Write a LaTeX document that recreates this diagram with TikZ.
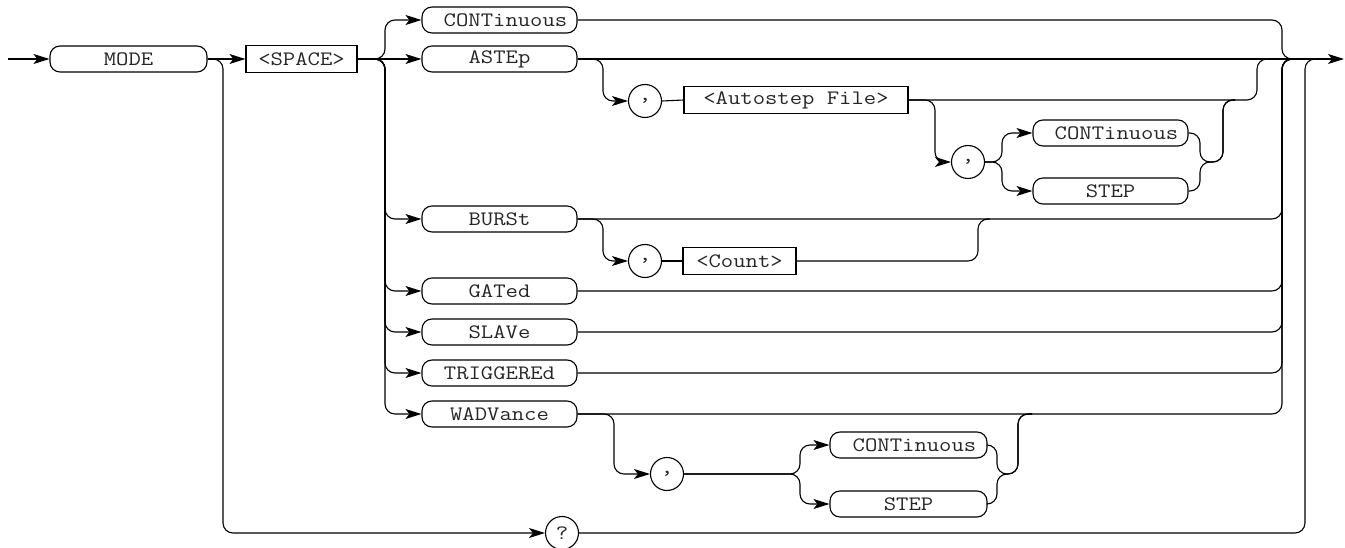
\documentclass[tikz,border=0pt]{standalone}
\usepackage{fontspec}
\newfontfamily\cour{Latin Modern Mono}[FakeStretch=1.17]
\usetikzlibrary{arrows.meta}
\begin{document}
\begin{tikzpicture}[x=1pt,y=-1pt,
  line width=1.1pt,
  every node/.style={font=\cour\fontsize{20.5}{24}\selectfont, text=black!85, inner sep=0pt},
  term/.style={draw, rounded corners=10pt, minimum height=26pt},
  nterm/.style={draw, minimum height=27pt},
  sepc/.style={draw, circle, minimum size=33pt},
  arr/.style={-{Stealth[length=16pt,width=10pt,inset=4pt]}},
  conn/.style={rounded corners=10pt}]
\useasboundingbox (0,0) rectangle (1345,548);

% nodes
\node[term, minimum width=157pt] (mode) at (128.5,59) {MODE};
\node[nterm, minimum width=111pt] (space) at (301.5,59) {<SPACE>};
\node[term, minimum width=155pt] (cont1) at (499.5,20) {\hspace*{12pt}CONTinuous};
\node[term, minimum width=155pt] (astep) at (499.5,59) {ASTEp};
\node[term, minimum width=155pt] (burst) at (499.5,219) {BURSt};
\node[term, minimum width=155pt] (gated) at (499.5,291) {GATed};
\node[term, minimum width=155pt] (slave) at (499.5,332) {SLAVe};
\node[term, minimum width=155pt] (trig) at (499.5,373) {TRIGGEREd};
\node[term, minimum width=155pt] (wadv) at (499.5,414) {WADVance};

\node[sepc] (c1) at (645,101) {,};
\node[nterm, minimum width=224pt] (auto) at (796,100) {<Autostep File>};
\node[sepc] (c2) at (968,162) {,};
\node[term, minimum width=155pt] (cont2) at (1110.5,133) {\hspace*{12pt}CONTinuous};
\node[term, minimum width=155pt] (step2) at (1110.5,191) {STEP};

\node[sepc] (c3) at (645,261) {,};
\node[nterm, minimum width=113pt] (count) at (739.5,261) {<Count>};

\node[sepc] (c4) at (667,474) {,};
\node[term, minimum width=157pt] (cont3) at (908.5,445) {\hspace*{12pt}CONTinuous};
\node[term, minimum width=157pt] (step3) at (908.5,504) {STEP};

\node[sepc] (q) at (562,533) {?};

% junction coordinates
\coordinate (start) at (8,59);
\coordinate (exit) at (1344,59);
\coordinate (J0) at (1268,59);
\coordinate (J1) at (1292,59);
\coordinate (J2) at (1316,59);
\coordinate (J3) at (1235,100);
\coordinate (J4) at (990,219);
\coordinate (J5) at (1032,414);

% main line
\draw[arr] (start) -- (mode);
\draw[arr] (mode) -- (space);
\draw[arr] (space) -- (astep);
\draw[arr] (astep.east) -- (exit);

% query bypass
\draw[arr,conn] (mode.east) -- (223,59) -- (223,533) -- (q.west);
\draw[conn] (q.east) -- (1305,533) -- (1305,59) -- (J2);

% options split
\draw[arr,conn] (space.east) -- (385,59) -- (385,20) -- (cont1.west);
\foreach \n/\y in {burst/219,gated/291,slave/332,trig/373,wadv/414}{
  \draw[arr,conn] (space.east) -- (385,59) -- (385,\y) -- (\n.west);
  \draw[conn] (\n.east) -- (1282,\y) -- (1282,59) -- (J1);
}
\draw[conn] (cont1.east) -- (1282,20) -- (1282,59) -- (J1);

% ASTEp branch
\draw[arr,conn] (astep.east) -- (603,59) -- (603,101) -- (c1.west);
\draw (c1.east) -- (auto.west);
\draw[conn] (auto.east) -- (1257,100) -- (1257,59) -- (J0);
\draw[arr,conn] (auto.east) -- (935,100) -- (935,162) -- (c2.west);
\draw[arr,conn] (c2.east) -- (1002,162) -- (1002,133) -- (cont2.west);
\draw[arr,conn] (c2.east) -- (1002,162) -- (1002,191) -- (step2.west);
\draw[conn] (cont2.east) -- (1200,133) -- (1200,162) -- (1223,162) -- (1223,100) -- (J3);
\draw[conn] (step2.east) -- (1200,191) -- (1200,162) -- (1223,162) -- (1223,100) -- (J3);

% BURSt branch
\draw[arr,conn] (burst.east) -- (603,219) -- (603,261) -- (c3.west);
\draw (c3.east) -- (count.west);
\draw[conn] (count.east) -- (978,261) -- (978,219) -- (J4);

% WADVance branch
\draw[arr,conn] (wadv.east) -- (614,414) -- (614,474) -- (c4.west);
\draw[arr,conn] (c4.east) -- (800,474) -- (800,445) -- (cont3.west);
\draw[arr,conn] (c4.east) -- (800,474) -- (800,504) -- (step3.west);
\draw[conn] (cont3.east) -- (997,445) -- (997,474) -- (1018,474) -- (1018,414) -- (J5);
\draw[conn] (step3.east) -- (997,504) -- (997,474) -- (1018,474) -- (1018,414) -- (J5);
\end{tikzpicture}
\end{document}
